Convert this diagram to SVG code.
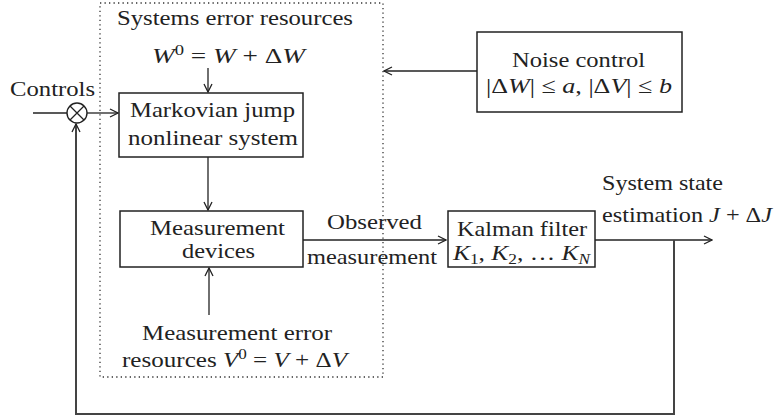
<svg xmlns="http://www.w3.org/2000/svg" width="777" height="419" viewBox="0 0 777 419">
<defs>
<style>
text{font-family:"Liberation Serif","DejaVu Serif","Times New Roman",serif;font-size:22px;fill:#222;}
.i{font-style:italic;}
.sup{font-size:15px;}
.sub{font-size:15px;}
.box{fill:#fff;stroke:#222;stroke-width:1.5;}
.ln{fill:none;stroke:#222;stroke-width:1.3;}
.fb{fill:none;stroke:#444;stroke-width:2;}
.dot{fill:none;stroke:#333;stroke-width:1.3;stroke-dasharray:1.3 3.2;}
</style>
<marker id="arr" viewBox="0 0 10 10" refX="9" refY="5" markerWidth="10" markerHeight="10" markerUnits="userSpaceOnUse" orient="auto">
<path d="M1,1 L9,5 L1,9" fill="none" stroke="#222" stroke-width="1.3"/>
</marker>
</defs>
<rect width="777" height="419" fill="#fff"/>

<g id="subsystem-boundary">
<rect class="dot" x="100" y="3" width="283" height="374"/>
<text x="117" y="25" textLength="236" lengthAdjust="spacingAndGlyphs">Systems error resources</text>
<text x="152" y="63" textLength="153" lengthAdjust="spacingAndGlyphs"><tspan class="i">W</tspan><tspan class="sup" dy="-8">0</tspan><tspan dy="8"> = </tspan><tspan class="i">W</tspan> + Δ<tspan class="i">W</tspan></text>
</g>

<g id="controls">
<text x="10" y="96" textLength="85" lengthAdjust="spacingAndGlyphs">Controls</text>
</g>

<g id="sum">
<circle cx="77" cy="113" r="10" fill="#fff" stroke="#222" stroke-width="1.4"/>
<path d="M70,106 L84,120 M84,106 L70,120" stroke="#222" stroke-width="1.3"/>
</g>

<g id="markovian">
<rect class="box" x="119" y="93" width="184" height="64"/>
<text x="130" y="117" textLength="165" lengthAdjust="spacingAndGlyphs">Markovian jump</text>
<text x="128" y="145" textLength="170" lengthAdjust="spacingAndGlyphs">nonlinear system</text>
</g>

<g id="measurement">
<rect class="box" x="120" y="211" width="183" height="56"/>
<text x="150" y="235" textLength="135" lengthAdjust="spacingAndGlyphs">Measurement</text>
<text x="182" y="258" textLength="73" lengthAdjust="spacingAndGlyphs">devices</text>
</g>

<g id="measurement-error">
<text x="142" y="340" textLength="190" lengthAdjust="spacingAndGlyphs">Measurement error</text>
<text x="122" y="367" textLength="225" lengthAdjust="spacingAndGlyphs">resources <tspan class="i">V</tspan><tspan class="sup" dy="-8">0</tspan><tspan dy="8"> = </tspan><tspan class="i">V</tspan> + Δ<tspan class="i">V</tspan></text>
</g>

<g id="noise-control">
<rect class="box" x="477" y="32" width="205" height="80"/>
<text x="512" y="67" textLength="133" lengthAdjust="spacingAndGlyphs">Noise control</text>
<text x="486" y="93" textLength="186" lengthAdjust="spacingAndGlyphs">|Δ<tspan class="i">W</tspan>| ≤ <tspan class="i">a</tspan>, |Δ<tspan class="i">V</tspan>| ≤ <tspan class="i">b</tspan></text>
</g>

<g id="kalman">
<rect class="box" x="448" y="211" width="147" height="56"/>
<text x="457" y="236" textLength="130" lengthAdjust="spacingAndGlyphs">Kalman filter</text>
<text x="453" y="260" textLength="137" lengthAdjust="spacingAndGlyphs"><tspan class="i">K</tspan><tspan class="sub" dy="4">1</tspan><tspan dy="-4">, </tspan><tspan class="i">K</tspan><tspan class="sub" dy="4">2</tspan><tspan dy="-4">, … </tspan><tspan class="i">K</tspan><tspan class="sub i" dy="4">N</tspan></text>
</g>

<g id="labels">
<text x="327" y="229" textLength="95" lengthAdjust="spacingAndGlyphs">Observed</text>
<text x="307" y="264" textLength="130" lengthAdjust="spacingAndGlyphs">measurement</text>
<text x="602" y="190" textLength="121" lengthAdjust="spacingAndGlyphs">System state</text>
<text x="602" y="222" textLength="170" lengthAdjust="spacingAndGlyphs">estimation <tspan class="i">J</tspan> + Δ<tspan class="i">J</tspan></text>
</g>

<g id="connectors">
<path class="ln" d="M33,113 H67"/>
<path class="ln" d="M87,113 H118" marker-end="url(#arr)"/>
<path class="ln" d="M208,68 V92" marker-end="url(#arr)"/>
<path class="ln" d="M208,157 V210" marker-end="url(#arr)"/>
<path class="ln" d="M209,315 V268" marker-end="url(#arr)"/>
<path class="ln" d="M477,71 H384" marker-end="url(#arr)"/>
<path class="ln" d="M303,240 H446" marker-end="url(#arr)"/>
<path class="ln" d="M595,240 H712" marker-end="url(#arr)"/>
<path class="fb" d="M674,240 V414 H76 V124" marker-end="url(#arr)"/>
</g>
</svg>
